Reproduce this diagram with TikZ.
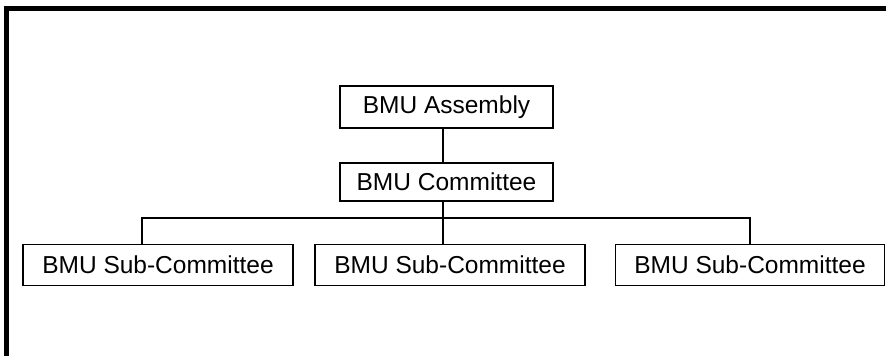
\documentclass[tikz,border=0pt]{standalone}
\usepackage{fontspec}
\setmainfont{Liberation Sans}
\begin{document}
\begin{tikzpicture}[x=1pt,y=1pt,
  orgbox/.style={draw=black, line width=1.7pt, fill=white, inner sep=0pt,
    font=\fontsize{24.5}{28}\selectfont, anchor=center},
  link/.style={draw=black, line width=1.7pt}]
\useasboundingbox (0,0) rectangle (886,356);
\begin{scope}
\clip (0,0) rectangle (886,356);
\draw[line width=5.5pt] (6.5,-20) -- (6.5,347.5) -- (900,347.5);
\end{scope}
\node[orgbox, minimum width=213pt, minimum height=42pt] (asm) at (446.5,249) {BMU Assembly};
\node[orgbox, minimum width=213pt, minimum height=38pt] (com) at (446.5,174) {BMU Committee};
\node[orgbox, minimum width=270pt, minimum height=41pt] (s1) at (158,91) {BMU Sub-Committee};
\node[orgbox, minimum width=270pt, minimum height=41pt] (s2) at (450,91) {BMU Sub-Committee};
\node[orgbox, minimum width=269pt, minimum height=41pt] (s3) at (750,91) {BMU Sub-Committee};
\coordinate (bus) at (443,138);
\draw[link] ([xshift=-3.5pt]asm.south) -- ([xshift=-3.5pt]com.north);
\draw[link] ([xshift=-3.5pt]com.south) -- (bus);
\draw[link] ([xshift=-16pt]s1.north) |- (bus) -| (s3.north);
\draw[link] (bus) -- ([xshift=-7pt]s2.north);
\end{tikzpicture}
\end{document}
